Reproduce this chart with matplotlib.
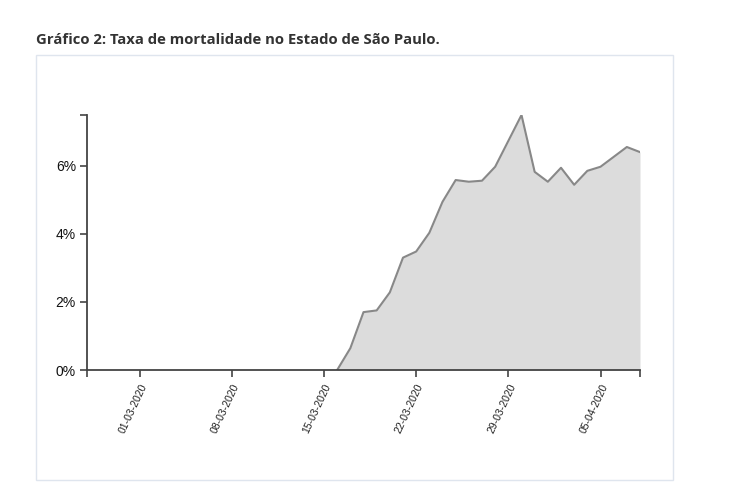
import matplotlib
matplotlib.use("Agg")
import matplotlib.pyplot as plt
from matplotlib.patches import Rectangle
import datetime as dt

title = "Gráfico 2: Taxa de mortalidade no Estado de São Paulo."
dates = ["16-03-2020", "17-03-2020", "18-03-2020", "19-03-2020", "20-03-2020",
         "21-03-2020", "22-03-2020", "23-03-2020", "24-03-2020", "25-03-2020",
         "26-03-2020", "27-03-2020", "28-03-2020", "29-03-2020", "30-03-2020",
         "31-03-2020", "01-04-2020", "02-04-2020", "03-04-2020", "04-04-2020",
         "05-04-2020", "06-04-2020", "07-04-2020", "08-04-2020"]
rates = [0.0, 0.64, 1.70, 1.75, 2.28, 3.30, 3.48, 4.03, 4.94, 5.58,
         5.53, 5.56, 5.97, 6.73, 7.49, 5.82, 5.53, 5.94, 5.44, 5.85,
         5.97, 6.26, 6.55, 6.40]
tick_labels = ["01-03-2020", "08-03-2020", "15-03-2020", "22-03-2020",
               "29-03-2020", "05-04-2020"]
y_ticks = [0, 2, 4, 6]
x_start = "26-02-2020"
x_end = "08-04-2020"

def parse(s):
    return dt.datetime.strptime(s, "%d-%m-%Y")

xs = [parse(d) for d in dates]

W, H = 730, 499
fig = plt.figure(figsize=(W / 100, H / 100), dpi=100)

# panel frame
fig.patches.append(Rectangle((36 / W, 1 - 480 / H), (673 - 36) / W, (480 - 55) / H,
                             transform=fig.transFigure, fill=False,
                             edgecolor="#dfe5ee", linewidth=1.0))
fig.text(36 / W, 1 - 40 / H, title, fontsize=10.7, fontweight="bold",
         family="Open Sans", color="#333333", va="center", ha="left")

ax = fig.add_axes([87 / W, 1 - 370 / H, (640 - 87) / W, (370 - 115) / H])
ax.fill_between(xs, rates, 0, color="#dcdcdc", linewidth=0)
ax.plot(xs, rates, color="#888888", linewidth=1.5)

ax.set_xlim(parse(x_start), parse(x_end))
ax.set_ylim(0, max(rates))

for s in ["top", "right"]:
    ax.spines[s].set_visible(False)
for s in ["left", "bottom"]:
    ax.spines[s].set_color("#444444")
    ax.spines[s].set_linewidth(1.3)

tick_pos = [parse(t) for t in tick_labels]
ax.set_xticks(tick_pos + [parse(x_start), parse(x_end)])
ax.set_xticklabels(tick_labels + ["", ""], rotation=65, ha="right",
                   rotation_mode="anchor", fontsize=7.5, family="Liberation Sans",
                   color="#222222")
ax.set_yticks(y_ticks + [max(rates)])
ax.set_yticklabels([f"{v}%" for v in y_ticks] + [""], fontsize=10,
                   family="Liberation Sans", color="#111111")
ax.tick_params(axis="both", length=5, width=1.2, color="#444444", pad=3)
ax.tick_params(axis="x", pad=4)

fig.savefig("out.png", dpi=100)
